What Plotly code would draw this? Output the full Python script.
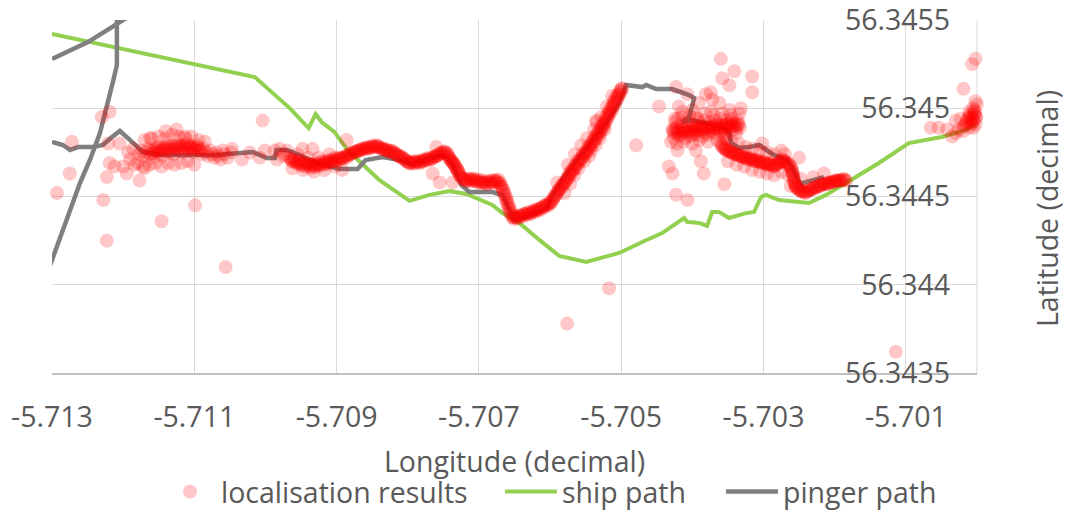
import plotly.graph_objects as go

# ---------------- ship path (green) ----------------
ship_lon = [-5.713000, -5.710151, -5.709660, -5.709393, -5.709295, -5.709211, -5.709028,
            -5.708846, -5.708397, -5.707975, -5.707695, -5.707414, -5.707175, -5.706993,
            -5.706811, -5.706670, -5.706432, -5.706151, -5.705870, -5.705491, -5.705028,
            -5.704705, -5.704425, -5.704116, -5.704074, -5.703905, -5.703793, -5.703723,
            -5.703625, -5.703484, -5.703246, -5.703133, -5.703035, -5.702965, -5.702782,
            -5.702361, -5.702123, -5.701842, -5.701379, -5.700958, -5.700495, -5.700158,
            -5.700010]
ship_lat = [56.345421, 56.345177, 56.345001, 56.344888, 56.344967, 56.344922, 56.344865,
            56.344763, 56.344593, 56.344475, 56.344509, 56.344531, 56.344514, 56.344486,
            56.344452, 56.344406, 56.344350, 56.344254, 56.344163, 56.344129, 56.344180,
            56.344242, 56.344293, 56.344378, 56.344356, 56.344350, 56.344333, 56.344412,
            56.344412, 56.344378, 56.344406, 56.344412, 56.344497, 56.344509, 56.344480,
            56.344463, 56.344509, 56.344576, 56.344690, 56.344803, 56.344837, 56.344877,
            56.344911]

# ---------------- pinger path (grey), three pieces ----------------
pinger_main_lon = [-5.713000, -5.712846, -5.712747, -5.712635, -5.712425, -5.712284, -5.712158,
                   -5.712046, -5.711933, -5.711723, -5.711484, -5.710684, -5.710361, -5.710179,
                   -5.709982, -5.709870, -5.709842, -5.709702, -5.709519, -5.709379, -5.709168,
                   -5.708958, -5.708705, -5.708593, -5.708354, -5.708116, -5.707947, -5.707723,
                   -5.707512, -5.707386, -5.707246, -5.707133, -5.706811, -5.706670, -5.706572,
                   -5.706502, -5.706291, -5.706039, -5.705982, -5.705800, -5.705589, -5.705407,
                   -5.705211, -5.705028, -5.704930, -5.704705, -5.704649, -5.704509, -5.704284,
                   -5.704046, -5.703975, -5.704046, -5.704144, -5.704004, -5.703863, -5.703695,
                   -5.703554, -5.703484, -5.703456, -5.703344, -5.703203, -5.703063, -5.702853,
                   -5.702670, -5.702572, -5.702502, -5.702460, -5.702151]
pinger_main_lat = [56.344809, 56.344792, 56.344763, 56.344780, 56.344780, 56.344792, 56.344837,
                   56.344871, 56.344831, 56.344752, 56.344735, 56.344735, 56.344746, 56.344752,
                   56.344718, 56.344718, 56.344763, 56.344763, 56.344735, 56.344707, 56.344678,
                   56.344656, 56.344656, 56.344707, 56.344724, 56.344707, 56.344684, 56.344707,
                   56.344735, 56.344695, 56.344565, 56.344525, 56.344525, 56.344508, 56.344424,
                   56.344367, 56.344390, 56.344435, 56.344497, 56.344610, 56.344724, 56.344820,
                   56.344916, 56.345030, 56.345132, 56.345120, 56.345132, 56.345109, 56.345109,
                   56.345075, 56.345058, 56.344950, 56.344922, 56.344933, 56.344922, 56.344905,
                   56.344888, 56.344860, 56.344803, 56.344775, 56.344780, 56.344792, 56.344735,
                   56.344707, 56.344650, 56.344582, 56.344576, 56.344610]
pinger_nw_lon = [-5.713000, -5.712495, -5.712158, -5.711975, -5.711765]
pinger_nw_lat = [56.345279, 56.345375, 56.345460, 56.345506, 56.345545]
pinger_sw_lon = [-5.712088, -5.712088, -5.712144, -5.712214, -5.712326, -5.712467, -5.712607,
                 -5.713000, -5.713084]
pinger_sw_lat = [56.345585, 56.345245, 56.345149, 56.345035, 56.344860, 56.344707, 56.344576,
                 56.344140, 56.344050]

# ---------------- localisation results ----------------
# western cluster and scattered fixes
west_lon = [-5.71177, -5.71174, -5.71171, -5.71168, -5.71165, -5.71162, -5.71159, -5.71156,
            -5.71153, -5.71150, -5.71147, -5.71144, -5.71141, -5.71138, -5.71135, -5.71132,
            -5.71129, -5.71126, -5.71123, -5.71120, -5.71117, -5.71114, -5.71111, -5.71108,
            -5.71105, -5.71102, -5.71099, -5.71096, -5.71093, -5.71090, -5.71087, -5.71084,
            -5.71081, -5.71078, -5.71075, -5.71072, -5.71069, -5.71066, -5.71063, -5.71058,
            -5.71053, -5.71048,
            -5.711605, -5.711575, -5.711545, -5.711515, -5.711485, -5.711455, -5.711425,
            -5.711395, -5.711365, -5.711335, -5.711305, -5.711275, -5.711245, -5.711215,
            -5.711185, -5.711155, -5.711125, -5.711095, -5.711065, -5.711035, -5.711005,
            -5.710975, -5.710945, -5.710915,
            -5.71180, -5.71172, -5.71163, -5.71155, -5.71146, -5.71137, -5.71128, -5.71118,
            -5.71109, -5.71100, -5.71170, -5.71160, -5.71150, -5.71141, -5.71131, -5.71122,
            -5.71113, -5.71104, -5.71094, -5.71085, -5.71125, -5.71140, -5.71186, -5.71190,
            -5.71272, -5.71219, -5.71230, -5.71275, -5.71293, -5.71223, -5.71219, -5.71212,
            -5.71195, -5.71177, -5.71228, -5.71223, -5.71146, -5.71099, -5.71056, -5.71004,
            -5.71221, -5.71205, -5.71193, -5.71200, -5.71162, -5.71113, -5.71184, -5.71170,
            -5.71060, -5.71047, -5.71033, -5.71022, -5.70987, -5.70984, -5.70973, -5.70948,
            -5.70934, -5.71008, -5.71001]
west_lat = [56.34474, 56.34476, 56.34473, 56.34475, 56.34477, 56.34474, 56.34472, 56.34476,
            56.34478, 56.34474, 56.34476, 56.34473, 56.34477, 56.34479, 56.34475, 56.34477,
            56.34474, 56.34478, 56.34476, 56.34479, 56.34475, 56.34477, 56.34480, 56.34476,
            56.34478, 56.34475, 56.34477, 56.34479, 56.34476, 56.34474, 56.34477, 56.34475,
            56.34473, 56.34476, 56.34474, 56.34472, 56.34475, 56.34473, 56.34471, 56.34474,
            56.34472, 56.34475,
            56.344762, 56.344748, 56.344770, 56.344756, 56.344774, 56.344760, 56.344778,
            56.344764, 56.344782, 56.344768, 56.344786, 56.344770, 56.344786, 56.344772,
            56.344788, 56.344774, 56.344788, 56.344772, 56.344786, 56.344770, 56.344782,
            56.344766, 56.344778, 56.344762,
            56.34469, 56.34467, 56.34468, 56.34469, 56.34467, 56.34469, 56.34468, 56.34469,
            56.34470, 56.34468, 56.34482, 56.34483, 56.34484, 56.34483, 56.34485, 56.34484,
            56.34483, 56.34484, 56.34482, 56.34481, 56.34488, 56.34487, 56.34477, 56.34471,
            56.34481, 56.34498, 56.34495, 56.34463, 56.34452, 56.34461, 56.34469, 56.34467,
            56.34463, 56.34459, 56.34448, 56.34425, 56.34436, 56.34445, 56.34410, 56.34493,
            56.34480, 56.34480, 56.34475, 56.34467, 56.34483, 56.34484, 56.34468, 56.34466,
            56.34476, 56.34477, 56.34471, 56.34475, 56.34476, 56.34471, 56.34474, 56.34477,
            56.34477, 56.34472, 56.34476]

# central track along the pinger path
track_lon = [-5.70966, -5.70963, -5.70960, -5.70957, -5.70954, -5.70951, -5.70948, -5.70945,
             -5.70942, -5.70939, -5.70936, -5.70933, -5.70930, -5.70927, -5.70924, -5.70921,
             -5.70918, -5.70915, -5.70912, -5.70909, -5.70906, -5.70903, -5.70900, -5.70897,
             -5.70962, -5.70955, -5.70947, -5.70940, -5.70932, -5.70925, -5.70917, -5.70910,
             -5.70903, -5.70970, -5.70975, -5.70980,
             -5.70894, -5.70891, -5.70888, -5.70885, -5.70882, -5.70879, -5.70876, -5.70873,
             -5.70870, -5.70867, -5.70864, -5.70861, -5.70858, -5.70855, -5.70852,
             -5.70849, -5.70846, -5.70843, -5.70840, -5.70837, -5.70834, -5.70831, -5.70828,
             -5.70825, -5.70822, -5.70819, -5.70816, -5.70813, -5.70810, -5.70807, -5.70804,
             -5.70801, -5.70798,
             -5.70795, -5.70792, -5.70789, -5.70786, -5.70783, -5.70780, -5.70777, -5.70774,
             -5.70771, -5.70768, -5.70765, -5.70762, -5.70759, -5.70756, -5.70753, -5.70750,
             -5.70747, -5.70744, -5.70742, -5.70740, -5.70738, -5.70736, -5.70734, -5.70732,
             -5.70731, -5.70729, -5.70727, -5.70725, -5.70722, -5.70720,
             -5.70717, -5.70714, -5.70711, -5.70708, -5.70705, -5.70702, -5.70699, -5.70696,
             -5.70693, -5.70690, -5.70687, -5.70684, -5.70681, -5.70678, -5.70675,
             -5.70672, -5.70670, -5.70667, -5.70665, -5.70663, -5.70661, -5.70660, -5.70658,
             -5.70656, -5.70654, -5.70652, -5.70650,
             -5.70647, -5.70644, -5.70641, -5.70638, -5.70635, -5.70632, -5.70629, -5.70626,
             -5.70623, -5.70620, -5.70617, -5.70614, -5.70611, -5.70608, -5.70605, -5.70602,
             -5.70599,
             -5.709645, -5.709615, -5.709585, -5.709555, -5.709525, -5.709495, -5.709465,
             -5.709435, -5.709405, -5.709375, -5.709345, -5.709315, -5.709285, -5.709255,
             -5.709225, -5.709195, -5.709165, -5.709135, -5.709105, -5.709075, -5.709045,
             -5.709015, -5.708985, -5.708955, -5.708925, -5.708895, -5.708865, -5.708835,
             -5.708805, -5.708775, -5.708745, -5.708715, -5.708685, -5.708655, -5.708625,
             -5.708595, -5.708565, -5.708535, -5.708505, -5.708475, -5.708445, -5.708415,
             -5.708385, -5.708355, -5.708325, -5.708295, -5.708265, -5.708235, -5.708205,
             -5.708175, -5.708145, -5.708115, -5.708085, -5.708055, -5.708025, -5.707995,
             -5.707965, -5.707935, -5.707905, -5.707875, -5.707845, -5.707815, -5.707785,
             -5.707755, -5.707725, -5.707695, -5.707665, -5.707635, -5.707605, -5.707575,
             -5.707545, -5.707515, -5.707485, -5.707455, -5.707430, -5.707410, -5.707390,
             -5.707370, -5.707350, -5.707330, -5.707305, -5.707285, -5.707265, -5.707235,
             -5.707205, -5.707175, -5.707145, -5.707115, -5.707085, -5.707055, -5.707025,
             -5.706995, -5.706965, -5.706935, -5.706905, -5.706875, -5.706845, -5.706815,
             -5.706785, -5.706755, -5.706725, -5.706700, -5.706685, -5.706660, -5.706645,
             -5.706625, -5.706605, -5.706590, -5.706570, -5.706550, -5.706530, -5.706505,
             -5.706475, -5.706445, -5.706415, -5.706385, -5.706355, -5.706325, -5.706295,
             -5.706265, -5.706235, -5.706205, -5.706175, -5.706145, -5.706115, -5.706085,
             -5.706055, -5.706025, -5.705995, -5.705975,
             -5.70886, -5.70892, -5.70765, -5.70755, -5.70737, -5.70760]
track_lat = [56.34472, 56.34470, 56.34471, 56.34469, 56.34470, 56.34468, 56.34469, 56.34467,
             56.34469, 56.34468, 56.34466, 56.34468, 56.34467, 56.34469, 56.34468, 56.34470,
             56.34468, 56.34470, 56.34469, 56.34471, 56.34470, 56.34472, 56.34470, 56.34472,
             56.34466, 56.34474, 56.34465, 56.34472, 56.34464, 56.34472, 56.34465, 56.34474,
             56.34467, 56.34476, 56.34473, 56.34477,
             56.34471, 56.34472, 56.34473, 56.34472, 56.34474, 56.34474, 56.34475, 56.34475,
             56.34476, 56.34476, 56.34477, 56.34477, 56.34478, 56.34477, 56.34478,
             56.34479, 56.34478, 56.34479, 56.34478, 56.34477, 56.34477, 56.34476, 56.34476,
             56.34475, 56.34476, 56.34475, 56.34474, 56.34473, 56.34473, 56.34472, 56.34471,
             56.34470, 56.34469,
             56.34469, 56.34470, 56.34469, 56.34470, 56.34469, 56.34470, 56.34471, 56.34471,
             56.34472, 56.34471, 56.34472, 56.34473, 56.34473, 56.34474, 56.34475, 56.34475,
             56.34475, 56.34474, 56.34472, 56.34471, 56.34470, 56.34469, 56.34468, 56.34466,
             56.34465, 56.34464, 56.34462, 56.34461, 56.34460, 56.34459,
             56.34459, 56.34460, 56.34459, 56.34460, 56.34459, 56.34458, 56.34459, 56.34458,
             56.34458, 56.34457, 56.34458, 56.34459, 56.34458, 56.34459, 56.34459,
             56.34458, 56.34456, 56.34455, 56.34453, 56.34451, 56.34449, 56.34447, 56.34445,
             56.34443, 56.34441, 56.34439, 56.34438,
             56.34438, 56.34439, 56.34439, 56.34440, 56.34440, 56.34441, 56.34440, 56.34441,
             56.34442, 56.34442, 56.34443, 56.34443, 56.34444, 56.34445, 56.34445, 56.34446,
             56.34447,
             56.344712, 56.344698, 56.344706, 56.344688, 56.344702, 56.344680, 56.344694,
             56.344676, 56.344688, 56.344672, 56.344684, 56.344670, 56.344682, 56.344674,
             56.344690, 56.344680, 56.344694, 56.344686, 56.344700, 56.344694, 56.344708,
             56.344702, 56.344716, 56.344712, 56.344720, 56.344718, 56.344730, 56.344736,
             56.344744, 56.344748, 56.344756, 56.344756, 56.344764, 56.344762, 56.344772,
             56.344770, 56.344778, 56.344774, 56.344782, 56.344780, 56.344786, 56.344780,
             56.344772, 56.344774, 56.344764, 56.344766, 56.344756, 56.344758, 56.344748,
             56.344742, 56.344734, 56.344728, 56.344718, 56.344712, 56.344702, 56.344694,
             56.344686, 56.344696, 56.344688, 56.344700, 56.344692, 56.344702, 56.344696,
             56.344708, 56.344704, 56.344716, 56.344712, 56.344722, 56.344726, 56.344734,
             56.344742, 56.344746, 56.344756, 56.344748, 56.344728, 56.344714, 56.344702,
             56.344692, 56.344680, 56.344670, 56.344654, 56.344640, 56.344620, 56.344604,
             56.344598, 56.344586, 56.344600, 56.344588, 56.344600, 56.344586, 56.344596,
             56.344578, 56.344592, 56.344576, 56.344588, 56.344572, 56.344586, 56.344576,
             56.344592, 56.344584, 56.344596, 56.344574, 56.344560, 56.344535, 56.344510,
             56.344485, 56.344460, 56.344436, 56.344415, 56.344398, 56.344382, 56.344372,
             56.344384, 56.344376, 56.344392, 56.344386, 56.344402, 56.344396, 56.344412,
             56.344404, 56.344418, 56.344412, 56.344426, 56.344422, 56.344436, 56.344438,
             56.344452, 56.344448, 56.344462, 56.344470,
             56.34482, 56.34465, 56.34463, 56.34458, 56.34458, 56.34478]

# rising leg towards the north-east
rise_lon = [-5.70596, -5.70594, -5.70591, -5.70589, -5.70587, -5.70584, -5.70582, -5.70579,
            -5.70577, -5.70575, -5.70573, -5.70571, -5.70569, -5.70566, -5.70564, -5.70561,
            -5.70559, -5.70556, -5.70554, -5.70551, -5.70549, -5.70546, -5.70544, -5.70541,
            -5.70539, -5.70537, -5.70535, -5.70533, -5.70531, -5.70529, -5.70527, -5.70526,
            -5.70524, -5.70522, -5.70520, -5.70518, -5.70517, -5.70515, -5.70513, -5.70511,
            -5.70510, -5.70508, -5.70506, -5.70504, -5.70502, -5.70500,
            -5.705950, -5.705925, -5.705900, -5.705875, -5.705850, -5.705825, -5.705800,
            -5.705775, -5.705750, -5.705725, -5.705700, -5.705675, -5.705650, -5.705625,
            -5.705600, -5.705575, -5.705550, -5.705525, -5.705500, -5.705475, -5.705450,
            -5.705425, -5.705400, -5.705375, -5.705350, -5.705325, -5.705300, -5.705280,
            -5.705260, -5.705240, -5.705220, -5.705200, -5.705180, -5.705160, -5.705140,
            -5.705120, -5.705100, -5.705080, -5.705060, -5.705040, -5.705020, -5.705000,
            -5.704985,
            -5.70580, -5.70572, -5.70566, -5.70560, -5.70552, -5.70545, -5.70542, -5.70536,
            -5.70565, -5.70556, -5.70548, -5.70538, -5.70528, -5.70520, -5.70513, -5.70530,
            -5.70523, -5.70535, -5.70590, -5.70575,
            -5.70535, -5.70479, -5.70447, -5.70517, -5.70576]
rise_lat = [56.34448, 56.34450, 56.34451, 56.34453, 56.34454, 56.34456, 56.34457, 56.34458,
            56.34460, 56.34461, 56.34463, 56.34464, 56.34465, 56.34467, 56.34468, 56.34470,
            56.34471, 56.34472, 56.34474, 56.34475, 56.34476, 56.34478, 56.34479, 56.34481,
            56.34482, 56.34484, 56.34485, 56.34486, 56.34487, 56.34489, 56.34490, 56.34491,
            56.34492, 56.34494, 56.34496, 56.34497, 56.34498, 56.34500, 56.34501, 56.34503,
            56.34504, 56.34506, 56.34507, 56.34508, 56.34510, 56.34511,
            56.344492, 56.344508, 56.344522, 56.344536, 56.344548, 56.344562, 56.344576,
            56.344588, 56.344604, 56.344618, 56.344632, 56.344648, 56.344660, 56.344676,
            56.344690, 56.344702, 56.344716, 56.344730, 56.344744, 56.344758, 56.344772,
            56.344786, 56.344800, 56.344814, 56.344830, 56.344844, 56.344858, 56.344874,
            56.344888, 56.344904, 56.344920, 56.344936, 56.344952, 56.344968, 56.344984,
            56.345000, 56.345016, 56.345032, 56.345048, 56.345064, 56.345080, 56.345096,
            56.345112,
            56.34452, 56.34457, 56.34462, 56.34466, 56.34470, 56.34473, 56.34476, 56.34479,
            56.34474, 56.34479, 56.34483, 56.34488, 56.34495, 56.34501, 56.34507, 56.34483,
            56.34488, 56.34492, 56.34458, 56.34468,
            56.34493, 56.34479, 56.34501, 56.34398, 56.34378]

# eastern cluster and its southward tail
east_lon = [-5.70428, -5.70426, -5.70423, -5.70420, -5.70417, -5.70414, -5.70411, -5.70408,
            -5.70405, -5.70402, -5.70399, -5.70396, -5.70393, -5.70390, -5.70387, -5.70384,
            -5.70381, -5.70378, -5.70375, -5.70372, -5.70369, -5.70366, -5.70363, -5.70360,
            -5.70357, -5.70354, -5.70351, -5.70348, -5.70345, -5.70342, -5.70339, -5.70336,
            -5.70333,
            -5.704275, -5.704245, -5.704215, -5.704185, -5.704155, -5.704125, -5.704095,
            -5.704065, -5.704035, -5.704005, -5.703975, -5.703945, -5.703915, -5.703885,
            -5.703855, -5.703825, -5.703795, -5.703765, -5.703735, -5.703705, -5.703675,
            -5.703645, -5.703615, -5.703585, -5.703555, -5.703525, -5.703495, -5.703465,
            -5.703435, -5.703405, -5.703375, -5.703345,
            -5.70426, -5.70418, -5.70410, -5.70402, -5.70394, -5.70386, -5.70378, -5.70370,
            -5.70362, -5.70354, -5.70346, -5.70338,
            -5.70424, -5.70416, -5.70408, -5.70400, -5.70392, -5.70384, -5.70376, -5.70368,
            -5.70360, -5.70352, -5.70344, -5.70336,
            -5.70430, -5.70422, -5.70412, -5.70400, -5.70390, -5.70378, -5.70365, -5.70352,
            -5.70425, -5.70415, -5.70404, -5.70394, -5.70382, -5.70370, -5.70358, -5.70346,
            -5.70334,
            -5.70400, -5.70391, -5.70381, -5.70414, -5.70374, -5.70393, -5.70362, -5.70421,
            -5.70360, -5.70358, -5.70355, -5.70352, -5.70349, -5.70346, -5.70343, -5.70340,
            -5.70337, -5.70334, -5.70331, -5.70328, -5.70325, -5.70322, -5.70319, -5.70316,
            -5.70313, -5.70310, -5.70307, -5.70304, -5.70301, -5.70298, -5.70295, -5.70292,
            -5.70289, -5.70286, -5.70283, -5.70280, -5.70277, -5.70274, -5.70271, -5.70268,
            -5.70265, -5.70262, -5.70260, -5.70259, -5.70258, -5.70257, -5.70256, -5.70255,
            -5.70253, -5.70250, -5.70247, -5.70244, -5.70241, -5.70238, -5.70235, -5.70232,
            -5.70229, -5.70226, -5.70223, -5.70220, -5.70217, -5.70214, -5.70211, -5.70208,
            -5.70205, -5.70202, -5.70199, -5.70196, -5.70193, -5.70190, -5.70187, -5.70184,
            -5.703590, -5.703565, -5.703535, -5.703505, -5.703475, -5.703445, -5.703415,
            -5.703385, -5.703355, -5.703325, -5.703295, -5.703265, -5.703235, -5.703205,
            -5.703175, -5.703145, -5.703115, -5.703085, -5.703055, -5.703025, -5.702995,
            -5.702965, -5.702935, -5.702905, -5.702875, -5.702845, -5.702815, -5.702785,
            -5.702755, -5.702725, -5.702695, -5.702665, -5.702635, -5.702610, -5.702595,
            -5.702585, -5.702575, -5.702565, -5.702555, -5.702540, -5.702515, -5.702485,
            -5.702455, -5.702425, -5.702395, -5.702365, -5.702335, -5.702305, -5.702275,
            -5.702245, -5.702215, -5.702185, -5.702155, -5.702125, -5.702095, -5.702065,
            -5.702035, -5.702005, -5.701975, -5.701945, -5.701915, -5.701885, -5.701855,
            -5.70355, -5.70345, -5.70335, -5.70325, -5.70315, -5.70305, -5.70295, -5.70285,
            -5.70275, -5.70350, -5.70338, -5.70327, -5.70316, -5.70305, -5.70295, -5.70285,
            -5.70275, -5.70265, -5.70270, -5.70262, -5.70248, -5.70230, -5.70215,
            -5.70360, -5.70341, -5.70358, -5.70348, -5.70316, -5.70316, -5.70374, -5.70423,
            -5.70407, -5.70332, -5.70348, -5.70433, -5.70428, -5.70388, -5.70384, -5.70355,
            -5.70423, -5.70407, -5.70421, -5.70395, -5.70302, -5.70250, -5.70372, -5.70419,
            -5.70114]
east_lat = [56.34488, 56.34486, 56.34489, 56.34487, 56.34485, 56.34488, 56.34486, 56.34489,
            56.34487, 56.34485, 56.34488, 56.34486, 56.34489, 56.34487, 56.34490, 56.34488,
            56.34486, 56.34489, 56.34487, 56.34490, 56.34488, 56.34491, 56.34489, 56.34487,
            56.34490, 56.34488, 56.34491, 56.34489, 56.34492, 56.34490, 56.34488, 56.34491,
            56.34489,
            56.344872, 56.344880, 56.344862, 56.344876, 56.344866, 56.344880, 56.344868,
            56.344884, 56.344870, 56.344886, 56.344872, 56.344890, 56.344876, 56.344894,
            56.344878, 56.344896, 56.344882, 56.344898, 56.344884, 56.344900, 56.344886,
            56.344904, 56.344890, 56.344906, 56.344892, 56.344908, 56.344896, 56.344910,
            56.344898, 56.344912, 56.344896, 56.344906,
            56.34483, 56.34484, 56.34483, 56.34484, 56.34485, 56.34484, 56.34485, 56.34486,
            56.34485, 56.34486, 56.34487, 56.34486,
            56.34492, 56.34491, 56.34492, 56.34491, 56.34492, 56.34493, 56.34492, 56.34493,
            56.34494, 56.34493, 56.34494, 56.34493,
            56.34481, 56.34480, 56.34481, 56.34480, 56.34482, 56.34481, 56.34482, 56.34483,
            56.34494, 56.34495, 56.34496, 56.34495, 56.34497, 56.34496, 56.34497, 56.34496,
            56.34497,
            56.34499, 56.34503, 56.34508, 56.34498, 56.34498, 56.34494, 56.34503, 56.34494,
            56.34480, 56.34478, 56.34477, 56.34476, 56.34476, 56.34475, 56.34475, 56.34474,
            56.34474, 56.34473, 56.34473, 56.34472, 56.34472, 56.34471, 56.34472, 56.34471,
            56.34470, 56.34471, 56.34470, 56.34469, 56.34470, 56.34469, 56.34468, 56.34469,
            56.34468, 56.34467, 56.34468, 56.34469, 56.34470, 56.34471, 56.34470, 56.34469,
            56.34468, 56.34467, 56.34465, 56.34463, 56.34461, 56.34459, 56.34457, 56.34456,
            56.34455, 56.34454, 56.34453, 56.34453, 56.34452, 56.34453, 56.34454, 56.34454,
            56.34455, 56.34455, 56.34456, 56.34456, 56.34457, 56.34457, 56.34457, 56.34458,
            56.34458, 56.34458, 56.34459, 56.34459, 56.34459, 56.34459, 56.34460, 56.34459,
            56.344792, 56.344782, 56.344768, 56.344762, 56.344752, 56.344748, 56.344740,
            56.344742, 56.344732, 56.344730, 56.344722, 56.344726, 56.344716, 56.344714,
            56.344710, 56.344706, 56.344700, 56.344702, 56.344694, 56.344692, 56.344688,
            56.344686, 56.344678, 56.344684, 56.344676, 56.344672, 56.344680, 56.344688,
            56.344696, 56.344706, 56.344700, 56.344690, 56.344680, 56.344660, 56.344640,
            56.344620, 56.344600, 56.344580, 56.344562, 56.344550, 56.344542, 56.344532,
            56.344528, 56.344522, 56.344526, 56.344534, 56.344540, 56.344548, 56.344550,
            56.344556, 56.344562, 56.344566, 56.344570, 56.344572, 56.344578, 56.344580,
            56.344582, 56.344586, 56.344588, 56.344592, 56.344590, 56.344596, 56.344594,
            56.34483, 56.34481, 56.34480, 56.34478, 56.34477, 56.34476, 56.34475, 56.34474,
            56.34476, 56.34470, 56.34468, 56.34467, 56.34465, 56.34464, 56.34463, 56.34462,
            56.34464, 56.34462, 56.34474, 56.34456, 56.34460, 56.34461, 56.34463,
            56.34528, 56.34521, 56.34517, 56.34513, 56.34518, 56.34509, 56.34509, 56.34512,
            56.34508, 56.34500, 56.34499, 56.34467, 56.34463, 56.34470, 56.34463, 56.34457,
            56.34451, 56.34448, 56.34476, 56.34476, 56.34480, 56.34472, 56.34505, 56.34501,
            56.34362]

# fixes near the eastern shore
shore_lon = [-5.70012, -5.70009, -5.70006, -5.70003, -5.70008, -5.70004, -5.70001, -5.70015,
             -5.70011, -5.70002, -5.70006, -5.70018, -5.70020, -5.70025, -5.70030, -5.70000,
             -5.700135, -5.700105, -5.700075, -5.700045, -5.700015, -5.700085, -5.700045,
             -5.700160, -5.700110, -5.700030,
             -5.70002, -5.70007, -5.70019, -5.70002, -5.70065, -5.70054, -5.70042, -5.70035,
             -5.70030, -5.70023, -5.70005]
shore_lat = [56.34494, 56.34496, 56.34493, 56.34497, 56.34491, 56.34499, 56.34495, 56.34492,
             56.34489, 56.34491, 56.34500, 56.34490, 56.34487, 56.34488, 56.34486, 56.34502,
             56.344936, 56.344956, 56.344942, 56.344962, 56.344948, 56.344920, 56.344928,
             56.344910, 56.344978, 56.344980,
             56.34528, 56.34525, 56.34511, 56.34504, 56.34489, 56.34489, 56.34488, 56.34484,
             56.34493, 56.34494, 56.34489]

# ---------------- axis ticks ----------------
lon_ticks = [-5.713, -5.711, -5.709, -5.707, -5.705, -5.703, -5.701]
lon_labels = ["-5.713", "-5.711", "-5.709", "-5.707", "-5.705", "-5.703", "-5.701"]
lat_ticks = [56.3435, 56.344, 56.3445, 56.345, 56.3455]
lat_labels = ["56.3435", "56.344", "56.3445", "56.345", "56.3455"]

loc_lon = west_lon + track_lon + rise_lon + east_lon + shore_lon
loc_lat = west_lat + track_lat + rise_lat + east_lat + shore_lat

pinger_lon = pinger_main_lon + [None] + pinger_nw_lon + [None] + pinger_sw_lon
pinger_lat = pinger_main_lat + [None] + pinger_nw_lat + [None] + pinger_sw_lat

TEXT = "#595959"
GRID = "#D9D9D9"
FS = 28.5
LEG_Y = -0.337

fig = go.Figure()
fig.add_trace(go.Scatter(x=ship_lon, y=ship_lat, mode="lines", name="ship path",
                         line=dict(color="#92D050", width=4), legend="legend2"))
fig.add_trace(go.Scatter(x=pinger_lon, y=pinger_lat, mode="lines", name="pinger path",
                         line=dict(color="#7F7F7F", width=4.5), legend="legend3"))
fig.add_trace(go.Scatter(x=loc_lon, y=loc_lat, mode="markers", name="localisation results",
                         marker=dict(color="rgba(255,0,0,0.22)", size=14, line=dict(width=0)),
                         cliponaxis=False, legend="legend"))

legend_style = dict(orientation="h", xanchor="left", y=LEG_Y, yanchor="middle",
                    itemwidth=52, font=dict(size=FS, color=TEXT), bgcolor="rgba(0,0,0,0)")

fig.update_layout(
    width=1067, height=513,
    margin=dict(l=52, r=90, t=20, b=140, autoexpand=False),
    paper_bgcolor="white", plot_bgcolor="white",
    font=dict(family="Open Sans", size=FS, color=TEXT),
    showlegend=True,
    legend=dict(x=0.1157, **legend_style),
    legend2=dict(x=0.4843, **legend_style),
    legend3=dict(x=0.7232, **legend_style),
    xaxis=dict(range=[-5.713, -5.700], tickvals=lon_ticks, ticktext=lon_labels,
               showgrid=True, gridcolor=GRID, gridwidth=1, zeroline=False,
               showline=True, linecolor="#BFBFBF", linewidth=1.5, ticks="",
               ticklabelstandoff=18, automargin=False,
               title=dict(text="Longitude (decimal)", standoff=18, font=dict(size=FS))),
    # latitude labels sit just inside the eastern edge of the plot
    yaxis=dict(range=[56.3435, 56.3455], tickvals=lat_ticks, ticktext=lat_labels,
               side="left", anchor="free", position=0.971, ticks="", automargin=False,
               ticklabeloverflow="allow",
               showgrid=True, gridcolor=GRID, gridwidth=1, zeroline=False,
               showline=False),
    shapes=[dict(type="line", xref="x domain", yref="y domain", x0=1, x1=1, y0=0, y1=1,
                 line=dict(color=GRID, width=1), layer="below")],
    annotations=[dict(text="Latitude (decimal)", textangle=-90, xref="paper", yref="paper",
                      x=1.0757, y=0.4646, xanchor="center", yanchor="middle",
                      showarrow=False, font=dict(size=FS, color=TEXT))],
)

fig.write_html("out.html")
